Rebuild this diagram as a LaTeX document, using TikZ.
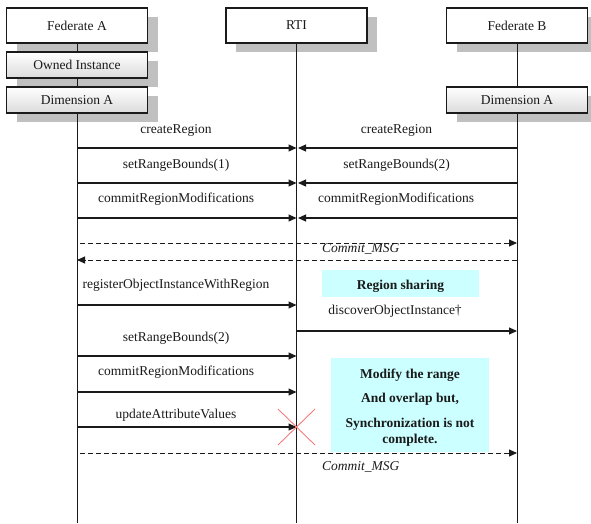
\documentclass[tikz,border=0pt]{standalone}
\usepackage{fontspec}
\setmainfont{Liberation Serif}
\usetikzlibrary{arrows.meta,shadows}

\definecolor{shadowgray}{HTML}{C0C0C0}
\definecolor{notecyan}{HTML}{CCFFFF}
\definecolor{crossred}{HTML}{F47C7C}
\definecolor{ink}{HTML}{1A1A1A}

\begin{document}
\begin{tikzpicture}[x=1pt,y=-1pt,
  font=\fontsize{13.5}{16}\selectfont, text=ink,
  boxshadow/.style={drop shadow={shadow xshift=10pt, shadow yshift=-9pt,
      fill=shadowgray, opacity=1}},
  header/.style={draw=ink, line width=1.2pt, fill=white, boxshadow,
      minimum width=141pt, minimum height=35pt, inner sep=0pt},
  subhead/.style={draw=ink, line width=1.2pt, top color=white,
      bottom color=black!14, boxshadow,
      minimum width=141pt, minimum height=26pt, inner sep=0pt},
  lifeline/.style={draw=ink, line width=0.9pt},
  msg/.style={draw=ink, line width=1.1pt, -{Triangle[length=8pt,width=7pt]}},
  async/.style={draw=ink, line width=0.9pt, dash pattern=on 5pt off 3pt,
      -{Triangle[length=8pt,width=7pt]}},
  lbl/.style={anchor=base, inner sep=0pt},
  note/.style={fill=notecyan, inner sep=0pt},
  notetext/.style={inner sep=0pt, font=\fontsize{13.5}{16}\selectfont\bfseries},
]
\useasboundingbox (0,0) rectangle (591,523);
\coordinate (bot) at (0,523);

% participants
\node[header]  (fa)   at (77,25.5)  {Federate A};
\node[header]  (rti)  at (296.5,25.5) {RTI};
\node[header]  (fb)   at (517,25.5) {Federate B};
\node[subhead] (own)  at (77,65)    {Owned Instance};
\node[subhead] (dima) at (77,100)   {Dimension A};
\node[subhead] (dimb) at (517,100)  {Dimension A};

% lifelines
\draw[lifeline] (fa.south) -- (own.north) (own.south) -- (dima.north)
                (dima.south) -- (dima.south |- bot);
\draw[lifeline] (rti.south) -- (rti.south |- bot);
\draw[lifeline] (fb.south) -- (dimb.north) (dimb.south) -- (dimb.south |- bot);

% notes (base of a multi-line node is the baseline of its last line)
\node[note, minimum width=157pt, minimum height=27pt] (share) at (400.5,283.5) {};
\node[notetext, anchor=base] at (400.5,289) {Region sharing};
\node[note, minimum width=158pt, minimum height=94pt] (modify) at (410,405) {};
\node[notetext, align=center, anchor=base] at (410,443)
  {Modify the range\\[8pt] And overlap but,\\[9pt] Synchronization is not\\ complete.};

% region set-up on both federates
\draw[msg] (dima |- 0,148) -- (rti |- 0,148);
\node[lbl] at (176,133) {createRegion};
\draw[msg] (dima |- 0,183) -- (rti |- 0,183);
\node[lbl] at (176,168) {setRangeBounds(1)};
\draw[msg] (dima |- 0,218) -- (rti |- 0,218);
\node[lbl] at (176,202) {commitRegionModifications};

\draw[msg] (dimb |- 0,148) -- ([xshift=1.5pt]rti |- 0,148);
\node[lbl] at (396.5,133) {createRegion};
\draw[msg] (dimb |- 0,183) -- ([xshift=1.5pt]rti |- 0,183);
\node[lbl] at (396.5,168) {setRangeBounds(2)};
\draw[msg] (dimb |- 0,218) -- ([xshift=1.5pt]rti |- 0,218);
\node[lbl] at (396,202) {commitRegionModifications};

% commit broadcast
\draw[async] ([xshift=3pt]dima |- 0,243) -- (dimb |- 0,243);
\node[lbl, anchor=base west, font=\fontsize{13.5}{16}\selectfont\itshape] at (322,252) {Commit\_MSG};
\draw[async] (dimb |- 0,260) -- (dima |- 0,260);

% object registration and discovery
\draw[msg] (dima |- 0,305) -- (rti |- 0,305);
\node[lbl] at (176,288) {registerObjectInstanceWithRegion};
\draw[msg] (rti |- 0,331) -- (dimb |- 0,331);
\node[lbl] at (395,314) {discoverObjectInstance†};

% range change and update
\draw[msg] (dima |- 0,356) -- (rti |- 0,356);
\node[lbl] at (176,341) {setRangeBounds(2)};
\draw[msg] (dima |- 0,392) -- (rti |- 0,392);
\node[lbl] at (176,375) {commitRegionModifications};
\draw[msg] (dima |- 0,427) -- (rti |- 0,427);
\node[lbl] at (176,418) {updateAttributeValues};

% lost update
\draw[crossred, line width=0.9pt] (278,409) -- (315,445) (278,445) -- (315,409);

% second commit
\draw[async] ([xshift=3pt]dima |- 0,453) -- (dimb |- 0,453);
\node[lbl, anchor=base west, font=\fontsize{13.5}{16}\selectfont\itshape] at (322,470) {Commit\_MSG};
\end{tikzpicture}
\end{document}
